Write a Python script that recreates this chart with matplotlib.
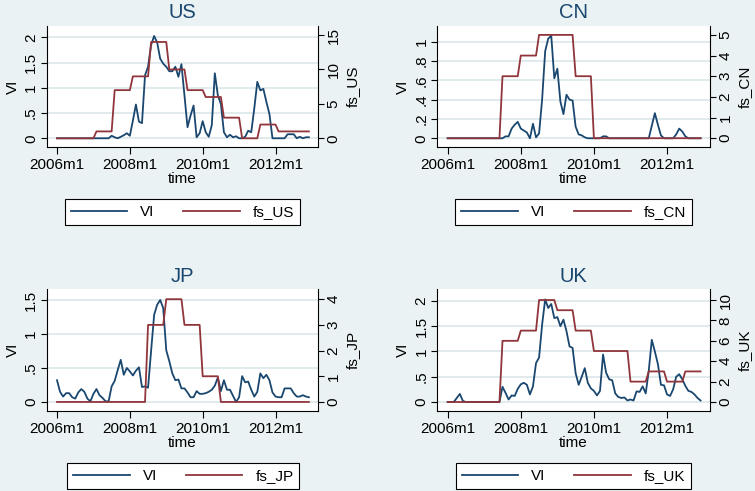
import numpy as np
import matplotlib
matplotlib.use('Agg')
import matplotlib.pyplot as plt
from matplotlib.lines import Line2D

plt.rcParams['font.family'] = ['Liberation Sans', 'DejaVu Sans']

# ---------------- data (monthly, 2006m1 .. 2012m12) ----------------
n_months = 84
xtick_pos = [0, 24, 48, 72]
xtick_labels = ['2006m1', '2008m1', '2010m1', '2012m1']

vi_US = [0]*17 + [0.0, 0.05, 0.02, 0.0, 0.03, 0.06, 0.1, 0.05, 0.35, 0.67, 0.33, 0.3,
         1.25, 1.42, 1.85, 2.03, 1.9, 1.58, 1.48, 1.42, 1.33, 1.33, 1.42, 1.22, 1.47,
         0.85, 0.22, 0.45, 0.65, 0.02, 0.1, 0.34, 0.12, 0.03, 0.26, 1.29, 0.85, 0.68,
         0.12, 0.02, 0.07, 0.02, 0.04, 0.0, 0.0, 0.03, 0.15, 0.12, 0.59, 1.12, 0.95,
         0.98, 0.72, 0.48, 0.0, 0.0, 0.0, 0.0, 0.0, 0.08, 0.08, 0.08, 0.0, 0.03, 0.0,
         0.02, 0.02]
fs_US = [0]*13 + [1]*6 + [7]*6 + [9]*6 + [14]*6 + [10]*6 + [7]*6 + [6]*6 + [3]*6 + \
        [0]*6 + [2]*6 + [1]*11

vi_CN = [0]*18 + [0.0, 0.02, 0.02, 0.1, 0.14, 0.17, 0.1, 0.08, 0.06, 0.0, 0.15, 0.01,
         0.05, 0.4, 0.9, 1.03, 1.06, 0.62, 0.72, 0.38, 0.25, 0.45, 0.4, 0.39, 0.12,
         0.04, 0.03, 0.01, 0, 0, 0, 0, 0, 0.02, 0.02, 0] + [0]*13 + \
        [0.13, 0.26, 0.14, 0.03, 0, 0, 0, 0, 0.04, 0.1, 0.07, 0.02] + [0]*5
fs_CN = [0]*18 + [3]*6 + [4]*6 + [5]*12 + [3]*6 + [0]*36

vi_JP = [0.32, 0.15, 0.08, 0.13, 0.13, 0.07, 0.05, 0.14, 0.19, 0.15, 0.05, 0.01,
         0.12, 0.19, 0.1, 0.06, 0.01, 0.01, 0.23, 0.31, 0.47, 0.62, 0.4, 0.5, 0.45,
         0.39, 0.46, 0.51, 0.22, 0.23, 0.21, 0.75, 1.28, 1.43, 1.5, 1.38, 0.76, 0.6,
         0.42, 0.32, 0.33, 0.2, 0.2, 0.14, 0.07, 0.07, 0.16, 0.12, 0.12, 0.13, 0.15,
         0.18, 0.24, 0.36, 0.16, 0.32, 0.18, 0.18, 0.09, 0.0, 0.07, 0.38, 0.29, 0.3,
         0.18, 0.08, 0.15, 0.42, 0.35, 0.4, 0.32, 0.14, 0.08, 0.07, 0.07, 0.2, 0.2,
         0.2, 0.13, 0.08, 0.08, 0.1, 0.08, 0.07]
fs_JP = [0]*30 + [3]*6 + [4]*6 + [3]*6 + [1]*6 + [0]*30

vi_UK = [0, 0, 0, 0.08, 0.16, 0.02] + [0]*11 + [0.0, 0.3, 0.18, 0.05, 0.13, 0.12, 0.26,
         0.35, 0.38, 0.34, 0.15, 0.31, 0.77, 0.88, 1.53, 2.03, 1.86, 1.94, 1.66, 1.68,
         1.5, 1.63, 1.4, 1.1, 1.07, 0.57, 0.34, 0.5, 0.67, 0.38, 0.27, 0.22, 0.13,
         0.22, 0.94, 0.58, 0.45, 0.43, 0.17, 0.1, 0.08, 0.09, 0.03, 0.05, 0.03, 0.21,
         0.2, 0.31, 0.17, 0.62, 1.23, 1.0, 0.75, 0.34, 0.33, 0.15, 0.12, 0.25, 0.5,
         0.55, 0.45, 0.32, 0.22, 0.2, 0.15, 0.08, 0.03]
fs_UK = [0]*18 + [6]*6 + [7]*6 + [10]*6 + [9]*6 + [7]*6 + [5]*12 + [2]*6 + [3]*6 + \
        [2]*6 + [3]*6

country_names = ['US', 'CN', 'JP', 'UK']
vi_series = [vi_US, vi_CN, vi_JP, vi_UK]
fs_series = [fs_US, fs_CN, fs_JP, fs_UK]
left_ticks = [[0, 0.5, 1, 1.5, 2], [0, 0.2, 0.4, 0.6, 0.8, 1], [0, 0.5, 1, 1.5],
              [0, 0.5, 1, 1.5, 2]]
left_labels = [['0', '.5', '1', '1.5', '2'], ['0', '.2', '.4', '.6', '.8', '1'],
               ['0', '.5', '1', '1.5'], ['0', '.5', '1', '1.5', '2']]
right_ticks = [[0, 5, 10, 15], [0, 1, 2, 3, 4, 5], [0, 1, 2, 3, 4],
               [0, 2, 4, 6, 8, 10]]

# ---------------- styling / layout ----------------
BG = '#EAF2F3'
BLUE = '#1A476F'
RED = '#90353B'
GRID = '#DCE7EB'
W, H = 755, 491
FS = 11
LW = 1.3

left_ylim = [(-0.167, 2.228), (-0.087, 1.161), (-0.128, 1.657), (-0.172, 2.23)]
right_ylim = [(-1.22, 16.32), (-0.41, 5.43), (-0.34, 4.385), (-0.85, 11.05)]
boxes = [(46.7, 26, 318, 146.7), (437.3, 26, 709.7, 146.7),
         (46.7, 289.3, 318, 410.7), (437.3, 289.3, 709.7, 410.7)]
legend_centers = [(182.5, 212), (573.5, 212), (183.3, 476), (573.5, 476)]
xlim = (-3.4, 86.0)

fig = plt.figure(figsize=(W / 100, H / 100), dpi=100, facecolor=BG)
months = np.arange(n_months)

for i in range(4):
    l, t, r, b = boxes[i]
    ax = fig.add_axes([l / W, 1 - b / H, (r - l) / W, (b - t) / H])
    ax.set_facecolor('white')
    ax2 = ax.twinx()

    ax.plot(months, vi_series[i], color=BLUE, lw=LW, zorder=3)
    ax2.plot(months, fs_series[i], color=RED, lw=LW, zorder=3)

    ax.set_xlim(*xlim)
    ax.set_ylim(*left_ylim[i])
    ax2.set_ylim(*right_ylim[i])

    ax.set_xticks(xtick_pos)
    ax.set_xticklabels(xtick_labels)
    ax.set_yticks(left_ticks[i])
    ax.set_yticklabels(left_labels[i])
    ax2.set_yticks(right_ticks[i])
    ax2.set_yticklabels([str(v) for v in right_ticks[i]])

    ax.yaxis.grid(True, color=GRID, lw=1.2)
    ax.set_axisbelow(True)

    for a in (ax, ax2):
        a.spines['top'].set_visible(False)
        for s in a.spines.values():
            s.set_color('black')
            s.set_linewidth(0.8)
    ax.spines['right'].set_visible(False)
    ax2.spines['left'].set_visible(False)
    ax2.spines['bottom'].set_visible(False)

    ax.tick_params(axis='x', length=4.8, width=0.8, labelsize=FS, pad=3.3)
    ax.tick_params(axis='y', length=4.3, width=0.8, labelsize=FS, pad=2,
                   labelrotation=90)
    ax2.tick_params(axis='y', length=4.3, width=0.8, labelsize=FS, pad=2,
                    labelrotation=90)
    for lab in ax.get_yticklabels():
        lab.set_va('center')
        lab.set_ha('right')
    for lab in ax2.get_yticklabels():
        lab.set_va('center')
        lab.set_ha('left')

    ax.set_xlabel('time', fontsize=FS, labelpad=0)
    ax.set_ylabel('VI', fontsize=FS, va='center')
    ax.yaxis.set_label_coords(-34 / (r - l), 0.5)
    ax2.set_ylabel('fs_' + country_names[i], fontsize=FS, va='center')
    ax2.yaxis.set_label_coords(1 + 35 / (r - l), 0.5)

    ax.set_title(country_names[i], fontsize=14.5, color=BLUE, pad=5.5)

    handles = [Line2D([], [], color=BLUE, lw=LW), Line2D([], [], color=RED, lw=LW)]
    cx, cy = legend_centers[i]
    leg = fig.legend(handles, ['VI', 'fs_' + country_names[i]], loc='center',
                     bbox_to_anchor=(cx / W, 1 - cy / H), ncol=2, frameon=True,
                     fancybox=False, edgecolor='black', facecolor='white',
                     framealpha=1, fontsize=FS, handlelength=3.7,
                     handletextpad=0.85, columnspacing=1.9, borderpad=0.38,
                     borderaxespad=0)
    leg.get_frame().set_linewidth(0.8)

fig.savefig('out.png', dpi=100, facecolor=BG)
